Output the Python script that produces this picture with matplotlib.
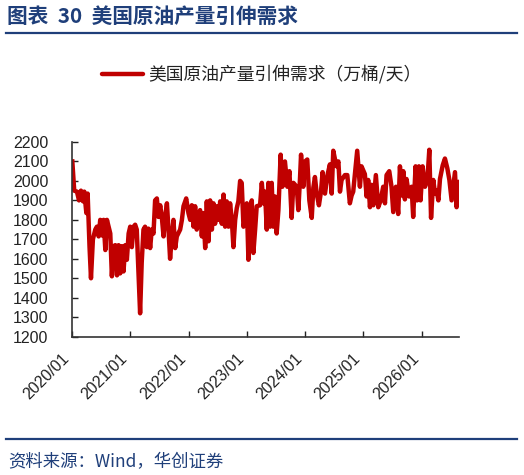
import matplotlib
matplotlib.use("Agg")
import matplotlib.pyplot as plt
import matplotlib.dates as mdates
from matplotlib.lines import Line2D
import pandas as pd

plt.rcParams['font.family'] = ['Noto Sans CJK SC', 'DejaVu Sans']

# weekly-ish readings of the series (万桶/天)
dates = [
    "2020-01-03", "2020-01-15", "2020-02-01", "2020-02-14", "2020-02-26", "2020-03-10",
    "2020-03-18", "2020-03-31", "2020-04-08", "2020-04-20", "2020-04-29", "2020-05-11",
    "2020-05-26", "2020-06-05", "2020-06-16", "2020-06-26", "2020-07-07", "2020-07-17",
    "2020-07-28", "2020-08-07", "2020-08-28", "2020-09-07", "2020-09-18", "2020-09-28",
    "2020-10-09", "2020-10-19", "2020-10-29", "2020-11-09", "2020-11-19", "2020-11-30",
    "2020-12-10", "2020-12-21", "2020-12-31", "2021-01-10", "2021-01-21", "2021-01-31",
    "2021-02-10", "2021-02-21", "2021-03-03", "2021-03-13", "2021-03-24", "2021-04-03",
    "2021-04-14", "2021-04-24", "2021-05-05", "2021-05-15", "2021-05-26", "2021-06-05",
    "2021-06-16", "2021-06-26", "2021-07-07", "2021-07-17", "2021-07-28", "2021-08-07",
    "2021-08-18", "2021-08-28", "2021-09-07", "2021-09-18", "2021-09-28", "2021-10-09",
    "2021-10-19", "2021-11-09", "2021-11-20", "2021-11-30", "2021-12-17", "2021-12-31",
    "2022-01-11", "2022-01-21", "2022-02-01", "2022-02-11", "2022-02-21", "2022-03-04",
    "2022-03-14", "2022-03-25", "2022-04-04", "2022-04-15", "2022-04-25", "2022-05-06",
    "2022-05-16", "2022-05-27", "2022-06-06", "2022-06-16", "2022-06-27", "2022-07-07",
    "2022-07-18", "2022-07-28", "2022-08-08", "2022-08-18", "2022-08-28", "2022-09-08",
    "2022-09-18", "2022-09-29", "2022-10-09", "2022-10-20", "2022-10-30", "2022-11-09",
    "2022-11-20", "2022-11-30", "2022-12-11", "2022-12-21", "2023-01-01", "2023-01-11",
    "2023-01-22", "2023-02-01", "2023-02-11", "2023-02-22", "2023-03-04", "2023-03-25",
    "2023-04-05", "2023-04-15", "2023-04-25", "2023-05-06", "2023-05-16", "2023-05-27",
    "2023-06-06", "2023-06-16", "2023-06-27", "2023-07-07", "2023-07-18", "2023-08-01",
    "2023-08-12", "2023-08-28", "2023-09-12", "2023-09-25", "2023-10-09", "2023-10-20",
    "2023-11-10", "2023-11-20", "2023-11-30", "2023-12-07", "2023-12-21", "2024-01-01",
    "2024-01-15", "2024-01-28", "2024-02-12", "2024-02-22", "2024-03-03", "2024-03-14",
    "2024-03-28", "2024-04-10", "2024-04-20", "2024-05-05", "2024-05-22", "2024-06-05",
    "2024-06-16", "2024-06-26", "2024-07-07", "2024-07-17", "2024-07-28", "2024-08-07",
    "2024-08-17", "2024-09-07", "2024-09-22", "2024-10-08", "2024-10-19", "2024-10-29",
    "2024-11-15", "2024-11-23", "2024-12-10", "2024-12-20", "2025-01-10", "2025-01-21",
    "2025-01-31", "2025-02-11", "2025-02-21", "2025-03-04", "2025-03-20", "2025-04-04",
    "2025-04-19", "2025-05-05", "2025-05-16", "2025-05-26", "2025-06-12", "2025-06-26",
    "2025-07-07", "2025-07-24", "2025-08-07", "2025-08-18", "2025-08-28", "2025-09-08",
    "2025-09-18", "2025-09-28", "2025-10-15", "2025-10-30", "2025-11-09", "2025-11-24",
    "2025-12-04", "2025-12-15", "2025-12-25", "2026-01-07", "2026-01-22", "2026-02-06",
    "2026-02-18", "2026-03-01", "2026-03-15", "2026-03-26", "2026-04-05", "2026-04-16",
    "2026-04-26", "2026-05-13", "2026-05-27", "2026-06-11", "2026-06-24", "2026-07-08",
    "2026-07-18", "2026-07-29", "2026-08-08", "2026-08-19", "2026-08-25",
]
demand = [
    2100, 1950, 1945, 1900, 1950, 1895,
    1945, 1835, 1935, 1660, 1500, 1700,
    1750, 1765, 1715, 1800, 1720, 1800,
    1645, 1800, 1730, 1510, 1665, 1670,
    1515, 1670, 1525, 1665, 1535, 1670,
    1595, 1730, 1765, 1660, 1765, 1775,
    1750, 1525, 1320, 1580, 1750, 1765,
    1660, 1755, 1655, 1750, 1730, 1900,
    1910, 1815, 1875, 1815, 1715, 1815,
    1885, 1750, 1600, 1715, 1800, 1655,
    1715, 1750, 1800, 1870, 1910, 1835,
    1800, 1875, 1765, 1870, 1750, 1815,
    1850, 1715, 1835, 1655, 1895, 1690,
    1900, 1750, 1885, 1780, 1870, 1800,
    1895, 1780, 1930, 1765, 1895, 1765,
    1885, 1800, 1660, 1800, 1860, 1895,
    2000, 1990, 1765, 1800, 1885, 1595,
    1800, 1900, 1630, 1750, 1870, 1875,
    1990, 1885, 1945, 1750, 1990, 1765,
    1990, 1765, 1920, 1730, 1850, 2135,
    1970, 2100, 1970, 2050, 1810, 1990,
    1970, 1850, 2005, 2135, 1970, 2100,
    2110, 1900, 1810, 1965, 2020, 1935,
    1875, 1945, 2045, 1935, 2035, 2085,
    1935, 2155, 2110, 2075, 2100, 1945,
    2005, 2030, 2030, 1885, 1925, 1945,
    2085, 2155, 1970, 2075, 2035, 1920,
    2005, 1865, 1980, 1875, 2030, 1865,
    1900, 1970, 1885, 2030, 2050, 1970,
    1840, 1970, 1830, 2075, 1925, 2050,
    1905, 2010, 1920, 1970, 1815, 2075,
    1900, 2075, 1900, 2075, 1970, 2005,
    2160, 1810, 2005, 1935, 1950, 1900,
    2010, 2080, 2115, 2065, 2005, 1900,
    1970, 2045, 1865, 1995, 1995,
]
yticks = [1200, 1300, 1400, 1500, 1600, 1700, 1800, 1900, 2000, 2100, 2200]
xtick_years = [2020, 2021, 2022, 2023, 2024, 2025, 2026]

x = pd.to_datetime(dates)
red = '#C00000'
blue = '#1F3F7A'

fig = plt.figure(figsize=(5.24, 4.75), dpi=100)
ax = fig.add_axes([0.1374, 0.2912, 0.7391, 0.4099])
ax.plot(x, demand, color=red, lw=3.2, solid_joinstyle='round')

ax.set_ylim(1200, 2200)
ax.set_yticks(yticks)
ax.set_xlim(pd.Timestamp('2020-01-01'), x[-1])
xt = [pd.Timestamp(f'{yr}-01-01') for yr in xtick_years]
ax.set_xticks(xt)
ax.set_xticklabels([f'{yr}/01' for yr in xtick_years], rotation=45, ha='right',
                   family='Liberation Sans', fontsize=11.5, color='#222222')
for lab in ax.get_yticklabels():
    lab.set_family('Liberation Sans')
    lab.set_fontsize(11.5)
    lab.set_color('#222222')
ax.tick_params(axis='y', direction='in', length=4, width=1, pad=17, colors='#222222')
ax.tick_params(axis='x', direction='in', length=4, width=1, pad=10, colors='#222222')
for s in ['top', 'right']:
    ax.spines[s].set_visible(False)
for s in ['left', 'bottom']:
    ax.spines[s].set_color('#333333')
    ax.spines[s].set_linewidth(1.2)

# title and rules
fig.text(7 / 524, 1 - 16 / 475, '图表  30  美国原油产量引伸需求', fontsize=14.9,
         fontweight='bold', color=blue, ha='left', va='center')
fig.add_artist(Line2D([6 / 524, 517 / 524], [1 - 33 / 475, 1 - 33 / 475],
                      color=blue, lw=1.6))
fig.add_artist(Line2D([6 / 524, 517 / 524], [1 - 439 / 475, 1 - 439 / 475],
                      color=blue, lw=1.6))

# legend
fig.add_artist(Line2D([102 / 524, 143 / 524], [1 - 74 / 475, 1 - 74 / 475],
                      color=red, lw=3.2, solid_capstyle='round'))
fig.text(148 / 524, 1 - 74 / 475, '美国原油产量引伸需求（万桶/天）', fontsize=12.8,
         color='#222222', ha='left', va='center')

# source
fig.text(8 / 524, 1 - 462 / 475, '资料来源：Wind，华创证券', fontsize=12.5,
         style='italic', color=blue, ha='left', va='center')

fig.savefig('out.png', dpi=100)
